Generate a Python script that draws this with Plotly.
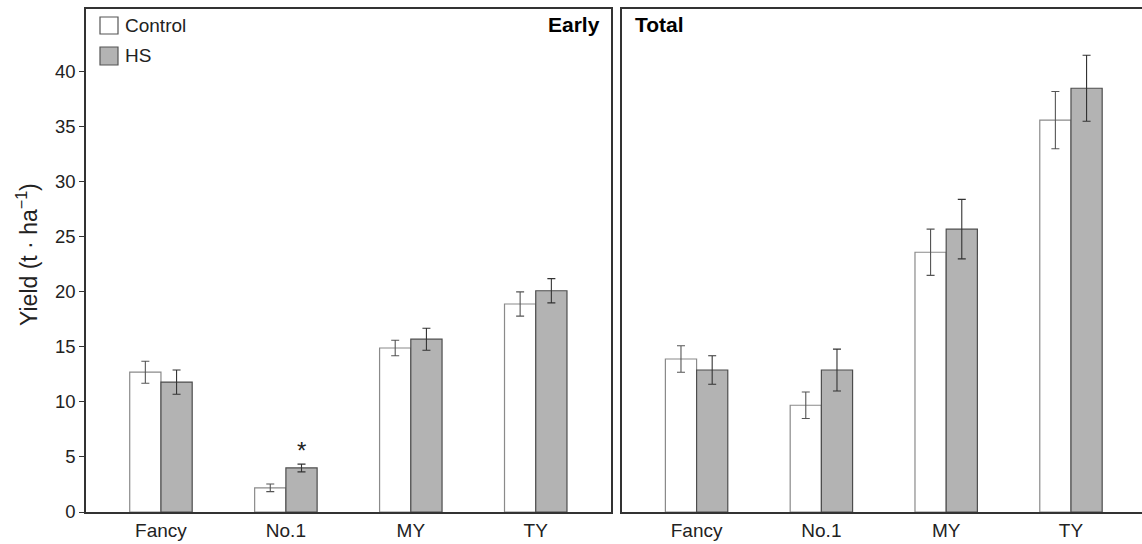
import plotly.graph_objects as go

# Yield by grade, control vs. heat-stress (HS) treatment
categories = ["Fancy", "No.1", "MY", "TY"]

early_control = [12.7, 2.2, 14.9, 18.9]
early_control_se = [1.0, 0.35, 0.7, 1.1]
early_hs = [11.8, 4.0, 15.7, 20.1]
early_hs_se = [1.1, 0.35, 1.0, 1.1]

total_control = [13.9, 9.7, 23.6, 35.6]
total_control_se = [1.2, 1.2, 2.1, 2.6]
total_hs = [12.9, 12.9, 25.7, 38.5]
total_hs_se = [1.3, 1.9, 2.7, 3.0]

yticks = [0, 5, 10, 15, 20, 25, 30, 35, 40]

FONT = "Liberation Sans, Arial, sans-serif"
AXIS = "#333333"
TEXT = "#222222"
HS_FILL = "#b3b3b3"

W, H = 1142, 544
ML, MT, MB = 86, 9, 32
plot_w = W - ML
plot_h = H - MT - MB

x_idx = list(range(len(categories)))


def bar(vals, err, name, fill, edge, errc, xa, ya):
    return go.Bar(
        x=x_idx, y=vals, name=name, xaxis=xa, yaxis=ya,
        marker=dict(color=fill, line=dict(color=edge, width=1.2)),
        error_y=dict(type="data", array=err, visible=True,
                     color=errc, thickness=1.1, width=4),
        offsetgroup=name, showlegend=False,
    )


fig = go.Figure()
fig.add_trace(bar(early_control, early_control_se, "Control", "white", "#8a8a8a", "#555555", "x", "y"))
fig.add_trace(bar(early_hs, early_hs_se, "HS", HS_FILL, "#4d4d4d", "#333333", "x", "y"))
fig.add_trace(bar(total_control, total_control_se, "Control", "white", "#8a8a8a", "#555555", "x2", "y2"))
fig.add_trace(bar(total_hs, total_hs_se, "HS", HS_FILL, "#4d4d4d", "#333333", "x2", "y2"))

left_dom = [0, (610.7 - ML) / plot_w]
right_dom = [(621.7 - ML) / plot_w, 1.0]
yrange = [0, 45.7]

xcommon = dict(
    tickvals=x_idx, ticktext=categories, ticks="", showgrid=False, zeroline=False,
    showline=True, linecolor=AXIS, linewidth=1.5,
    tickfont=dict(family=FONT, size=19, color=TEXT),
)

fig.update_layout(
    width=W, height=H,
    margin=dict(l=ML, r=0, t=MT, b=MB),
    paper_bgcolor="white", plot_bgcolor="white",
    barmode="group", bargap=0.5, bargroupgap=0,
    showlegend=False,
    xaxis=dict(domain=left_dom, range=[-0.6, 3.6], mirror=True, anchor="y", **xcommon),
    xaxis2=dict(domain=right_dom, range=[-0.6, -0.6 + (W - 621.7) / 124.8], mirror=True,
                anchor="y2", **xcommon),
    yaxis=dict(
        range=yrange, tickvals=yticks, ticks="outside", ticklen=5, tickcolor=AXIS,
        showgrid=False, zeroline=False, showline=True, linecolor=AXIS, linewidth=1.5,
        mirror=True, anchor="x",
        tickfont=dict(family=FONT, size=18.5, color=TEXT),
    ),
    yaxis2=dict(
        range=yrange, showticklabels=False, ticks="", showgrid=False, zeroline=False,
        showline=True, linecolor=AXIS, linewidth=1.5, mirror=False, anchor="x2",
    ),
)


def px_x(px):
    return (px - ML) / plot_w


def px_y(py):
    return (H - MB - py) / plot_h


# y-axis title
fig.add_annotation(
    text="Yield (t · ha<sup>−1</sup>)", textangle=-90,
    xref="paper", yref="paper", x=px_x(27), y=px_y(255),
    xanchor="center", yanchor="middle", showarrow=False,
    font=dict(family=FONT, size=23, color=TEXT),
)

# panel labels
fig.add_annotation(
    text="<b>Early</b>", xref="paper", yref="paper",
    x=px_x(602), y=px_y(25), xanchor="right", yanchor="middle", showarrow=False,
    font=dict(family=FONT, size=21, color="black"),
)
fig.add_annotation(
    text="<b>Total</b>", xref="paper", yref="paper",
    x=px_x(633), y=px_y(25), xanchor="left", yanchor="middle", showarrow=False,
    font=dict(family=FONT, size=21, color="black"),
)

# significance marker above HS No.1 (early)
i = categories.index("No.1")
fig.add_annotation(
    text="*", xref="x", yref="y", x=i + 0.125, y=early_hs[i] + early_hs_se[i] + 1.2,
    xanchor="center", yanchor="middle", showarrow=False,
    font=dict(family=FONT, size=24, color=TEXT),
)

# legend keys
for label, fill, top, bot in [("Control", "white", 17, 34), ("HS", HS_FILL, 47, 65)]:
    fig.add_shape(type="rect", xref="paper", yref="paper",
                  x0=px_x(100), x1=px_x(118), y0=px_y(bot), y1=px_y(top),
                  fillcolor=fill, line=dict(color="#555555", width=1.2))
    fig.add_annotation(text=label, xref="paper", yref="paper",
                       x=px_x(123), y=px_y((top + bot) / 2), xanchor="left", yanchor="middle",
                       showarrow=False, font=dict(family=FONT, size=19, color=TEXT))

fig.write_html("out.html")
